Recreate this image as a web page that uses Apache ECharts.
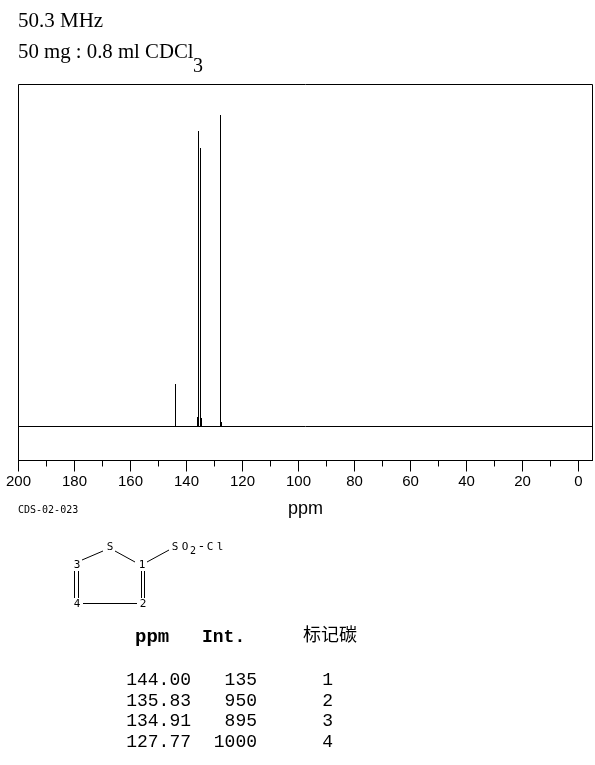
<!DOCTYPE html>
<html><head><meta charset="utf-8">
<style>html,body{margin:0;padding:0;background:#fff}#c{width:595px;height:765px}</style>
<script src="https://cdn.jsdelivr.net/npm/echarts@6/dist/echarts.min.js"></script>
</head><body><div id="c"></div>
<script>
const ppmLabels = ['144.00','135.83','134.91','127.77'];
const ppmValues = [144.00,135.83,134.91,127.77];
const intensities = [135,950,895,1000];
const carbonLabels = ['1','2','3','4'];
const footLeft = [3,29,0,0];
const footRight = [3,0,26,13];
const majorTicks = [0,20,40,60,80,100,120,140,160,180,200];
const minorTicks = [10,30,50,70,90,110,130,150,170,190];
const baseline = [[200,0],[-5,0]];

const chart = echarts.init(document.getElementById('c'), null, {renderer:'canvas'});
const black = '#000';
const serif = '"Liberation Serif"', mono = '"Liberation Mono"', pix = '"DejaVu Sans Mono"';
function txt(x,y,text,font,size,align,extra){
  return {type:'text',x:x,y:y,silent:true,style:Object.assign({text:text,fontFamily:font,fontSize:size,fill:black,align:align||'left',verticalAlign:'middle'},extra||{})};
}
function seg(x1,y1,x2,y2){
  return {type:'line',silent:true,shape:{x1:x1,y1:y1,x2:x2,y2:y2},style:{stroke:black,lineWidth:1}};
}
const rowY = [680,701,721.5,742];
const graphics = [
  txt(18,21,'50.3 MHz',serif,21),
  txt(18,53,'50 mg : 0.8 ml CDCl',serif,20.8),
  txt(193,67,'3',serif,20),
  txt(18,510,'CDS-02-023',pix,10),
  txt(135,637,'ppm',mono,19,'left',{fontWeight:'bold'}),
  txt(202,637,'Int.',mono,18,'left',{fontWeight:'bold'}),
  txt(303,634.5,'标记碳','"Noto Sans CJK SC"',18),
  // structure
  txt(110,547,'S',pix,11,'center'), txt(77,565.5,'3',pix,11,'center'), txt(142,565.5,'1',pix,11,'center'),
  txt(77,604,'4',pix,11,'center'), txt(143,604,'2',pix,11,'center'),
  txt(175,547,'S',pix,11,'center'), txt(185,547,'O',pix,11,'center'), txt(193,551,'2',pix,10,'center'),
  txt(201.5,547,'-',pix,13,'center'), txt(210,547,'C',pix,11,'center'), txt(220,547,'l',pix,11,'center'),
  seg(82,560,103,551), seg(115,551,135,562), seg(147,562,169,550),
  seg(74.5,571,74.5,598), seg(78.5,571,78.5,598),
  seg(141.5,571,141.5,598), seg(144.5,571,144.5,598),
  seg(83,603.5,137,603.5)
];
ppmLabels.forEach((p,i)=>{
  graphics.push(txt(191,rowY[i],p,mono,18,'right'));
  graphics.push(txt(257,rowY[i],String(intensities[i]),mono,18,'right'));
  graphics.push(txt(333,rowY[i],carbonLabels[i],mono,18,'right'));
});

const peakData = ppmValues.map((p,i)=>[p,intensities[i],footLeft[i],footRight[i]]);
function renderPeak(params,api){
  const x = Math.floor(api.coord([api.value(0),0])[0])+0.5;
  const y0 = Math.round(api.coord([0,0])[1]-0.5)+0.5;
  const top = Math.round(api.coord([0,api.value(1)])[1]);
  const fl = api.coord([0,api.value(2)])[1], fr = api.coord([0,api.value(3)])[1];
  const st = {stroke:black,lineWidth:1,fill:null};
  const kids = [{type:'line',shape:{x1:x,y1:y0,x2:x,y2:top},style:st}];
  if(api.value(2)>0) kids.push({type:'line',shape:{x1:x-1,y1:y0,x2:x-1,y2:Math.round(fl)},style:st});
  if(api.value(3)>0) kids.push({type:'line',shape:{x1:x+1,y1:y0,x2:x+1,y2:Math.round(fr)},style:st});
  return {type:'group',children:kids};
}
const axisBase = {
  type:'value',inverse:true,min:-5,max:200,position:'bottom',
  splitLine:{show:false},
  axisLine:{show:true,onZero:false,lineStyle:{color:black,width:1}}
};
chart.setOption({
  animation:false,
  backgroundColor:'#fff',
  grid:{left:18.5,top:84.5,width:574,height:376,show:true,borderColor:black,borderWidth:1,backgroundColor:'transparent'},
  xAxis:[
    Object.assign({},axisBase,{
      name:'ppm',nameLocation:'middle',nameGap:40,
      nameTextStyle:{fontFamily:'"Liberation Sans"',fontSize:18,color:black},
      axisTick:{show:true,length:11,inside:false,customValues:majorTicks,lineStyle:{color:black,width:1}},
      axisLabel:{show:true,customValues:majorTicks,margin:14,fontFamily:'"Liberation Sans"',fontSize:15,color:black,hideOverlap:false}
    }),
    Object.assign({},axisBase,{
      axisTick:{show:true,length:6,customValues:minorTicks,lineStyle:{color:black,width:1}},
      axisLabel:{show:false}
    })
  ],
  yAxis:{type:'value',min:-109.2,max:1098.6,show:false},
  series:[
    {type:'line',data:baseline,symbol:'none',silent:true,lineStyle:{color:black,width:1},clip:false},
    {type:'custom',data:peakData,renderItem:renderPeak,silent:true,clip:false,encode:{x:0,y:1}}
  ],
  graphic:graphics
});
</script></body></html>
